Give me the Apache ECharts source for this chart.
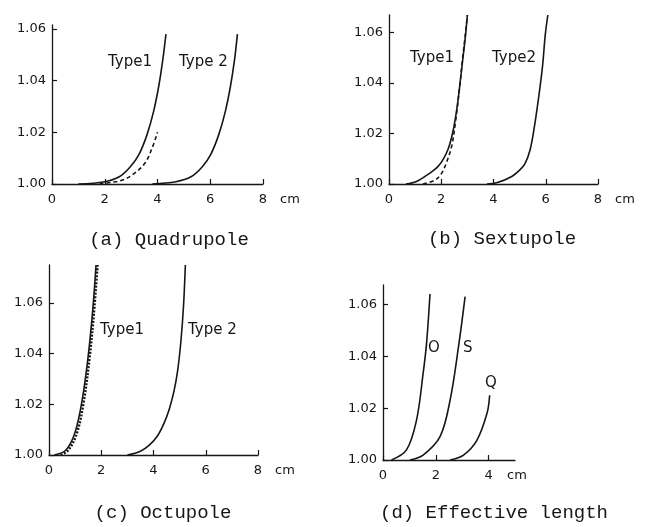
<!DOCTYPE html>
<html>
<head>
<meta charset="utf-8">
<script src="https://cdn.jsdelivr.net/npm/echarts@6/dist/echarts.min.js"></script>
<style>
  html, body { margin: 0; padding: 0; background: #fff; }
  #chart { width: 653px; height: 527px; }
</style>
</head>
<body>
<div id="chart"></div>
<script>
// (a) Quadrupole  [x cm, ratio]
const quadType1 = [[1.0, 1.0], [2.0, 1.0009], [2.55, 1.0028], [2.97, 1.0067], [3.3, 1.0115], [3.6, 1.019], [3.85, 1.028], [4.05, 1.038], [4.2, 1.048], [4.32, 1.058]];
const quadType1Dash = [[1.8, 1.0], [2.3, 1.0007], [2.7, 1.0016], [3.07, 1.0037], [3.52, 1.008], [3.8, 1.014], [4.0, 1.020]];
const quadType2 = [[3.8, 1.0], [4.7, 1.0009], [5.27, 1.0028], [5.7, 1.0067], [6.02, 1.0115], [6.32, 1.019], [6.57, 1.028], [6.77, 1.038], [6.92, 1.048], [7.03, 1.058]];

// (b) Sextupole
const sextType1 = [[0.65, 1.0], [1.05, 1.001], [1.45, 1.0035], [1.9, 1.0072], [2.25, 1.0135], [2.45, 1.021], [2.6, 1.03], [2.72, 1.04], [2.83, 1.05], [2.92, 1.058], [3.0, 1.067]];
const sextType1Dash = [[1.3, 1.0], [1.75, 1.0015], [2.0, 1.004], [2.2, 1.0085], [2.4, 1.015], [2.55, 1.025], [2.7, 1.038], [2.82, 1.05], [2.93, 1.06], [3.0, 1.067]];
const sextType2 = [[3.75, 1.0], [4.15, 1.0006], [4.7, 1.003], [5.0, 1.0055], [5.2, 1.008], [5.4, 1.0135], [5.57, 1.023], [5.75, 1.036], [5.88, 1.047], [5.98, 1.059], [6.08, 1.067]];

// (c) Octupole
const octType1 = [[0.2, 1.0], [0.65, 1.002], [1.0, 1.009], [1.27, 1.0217], [1.5, 1.039], [1.68, 1.058], [1.8, 1.075]];
const octType1Dot = [[0.45, 1.0], [0.75, 1.002], [1.08, 1.009], [1.33, 1.021], [1.55, 1.038], [1.72, 1.056], [1.86, 1.075]];
const octType2 = [[3.0, 1.0], [3.5, 1.0015], [3.85, 1.004], [4.15, 1.0075], [4.4, 1.0125], [4.6, 1.018], [4.78, 1.025], [4.92, 1.033], [5.05, 1.045], [5.15, 1.059], [5.22, 1.075]];

// (d) Effective length
const effO = [[0.32, 1.0], [0.89, 1.0039], [1.27, 1.0154], [1.52, 1.0334], [1.65, 1.045], [1.78, 1.064]];
const effS = [[1.02, 1.0], [1.52, 1.0019], [2.16, 1.009], [2.54, 1.023], [2.86, 1.0437], [3.11, 1.063]];
const effQ = [[2.54, 1.0], [3.05, 1.0019], [3.56, 1.0077], [3.94, 1.018], [4.04, 1.025]];

const yTicks = [1.00, 1.02, 1.04, 1.06];
const xTicks8 = [0, 2, 4, 6, 8];
const xTicks5 = [0, 2, 4];

const INK = "#161616";

// panel layout
const panels = [
    { left: 52, top: 25, width: 211, height: 159, xMax: 8, yMax: 1.0615, xTicks: xTicks8, nameGap: 17 },
    { left: 389, top: 15, width: 209, height: 169, xMax: 8, yMax: 1.067, xTicks: xTicks8, nameGap: 17 },
    { left: 49, top: 265, width: 209, height: 190, xMax: 8, yMax: 1.075, xTicks: xTicks8, nameGap: 17 },
    { left: 383, top: 285, width: 132, height: 175, xMax: 5, yMax: 1.0675, xTicks: xTicks5, nameGap: -8 },
];

const labelFont = { color: INK, fontSize: 13, fontFamily: "DejaVu Sans" };

const grid = panels.map((p) => ({ left: p.left, top: p.top, width: p.width, height: p.height }));

const xAxis = panels.map((p, i) => ({
    type: "value",
    gridIndex: i,
    min: 0,
    max: p.xMax,
    interval: 2,
    name: "cm",
    nameLocation: "end",
    nameGap: p.nameGap,
    nameTextStyle: { ...labelFont, align: "left", verticalAlign: "top", padding: [9, 0, 0, 0] },
    axisLine: { lineStyle: { color: INK, width: 1.3 } },
    axisTick: { inside: true, length: 5, customValues: p.xTicks, lineStyle: { color: INK, width: 1.2 } },
    axisLabel: { ...labelFont, margin: 9, customValues: p.xTicks },
    splitLine: { show: false },
}));

const yAxis = panels.map((p, i) => ({
    type: "value",
    gridIndex: i,
    min: 1,
    max: p.yMax,
    interval: 0.02,
    axisLine: { show: true, lineStyle: { color: INK, width: 1.3 } },
    axisTick: { show: true, inside: true, length: 5, customValues: yTicks, lineStyle: { color: INK, width: 1.2 } },
    axisLabel: { ...labelFont, margin: 6, customValues: yTicks, formatter: (v) => v.toFixed(2) },
    splitLine: { show: false },
}));

const line = (data, idx, type, width) => ({
    type: "line",
    xAxisIndex: idx,
    yAxisIndex: idx,
    data,
    symbol: "none",
    smooth: 0.35,
    silent: true,
    lineStyle: { color: INK, width: width || 1.6, type: type || "solid" },
});

const series = [
    line(quadType1, 0),
    line(quadType1Dash, 0, [4, 3]),
    line(quadType2, 0),
    line(sextType1, 1),
    line(sextType1Dash, 1, [4, 3]),
    line(sextType2, 1),
    line(octType1, 2),
    line(octType1Dot, 2, [2, 1.5], 2.4),
    line(octType2, 2),
    line(effO, 3),
    line(effS, 3),
    line(effQ, 3),
];

// curve labels and captions
const txt = (text, x, y, font, align) => ({
    type: "text",
    x,
    y,
    style: { text, font, fill: INK, align: align || "left", verticalAlign: "middle" },
});
const tagFont = "15px 'DejaVu Sans'";
const capFont = "19px 'Liberation Mono'";

const graphic = [
    txt("Type1", 108, 62, tagFont),
    txt("Type 2", 179, 62, tagFont),
    txt("Type1", 410, 58, tagFont),
    txt("Type2", 492, 58, tagFont),
    txt("Type1", 100, 330, tagFont),
    txt("Type 2", 188, 330, tagFont),
    txt("O", 428, 348, tagFont),
    txt("S", 463, 348, tagFont),
    txt("Q", 485, 383, tagFont),
    txt("(a) Quadrupole", 169, 240, capFont, "center"),
    txt("(b) Sextupole", 502, 239, capFont, "center"),
    txt("(c) Octupole", 163, 513, capFont, "center"),
    txt("(d) Effective length", 494, 513, capFont, "center"),
];

const chart = echarts.init(document.getElementById("chart"));
chart.setOption({
    backgroundColor: "#fff",
    animation: false,
    grid,
    xAxis,
    yAxis,
    series,
    graphic,
});
</script>
</body>
</html>
